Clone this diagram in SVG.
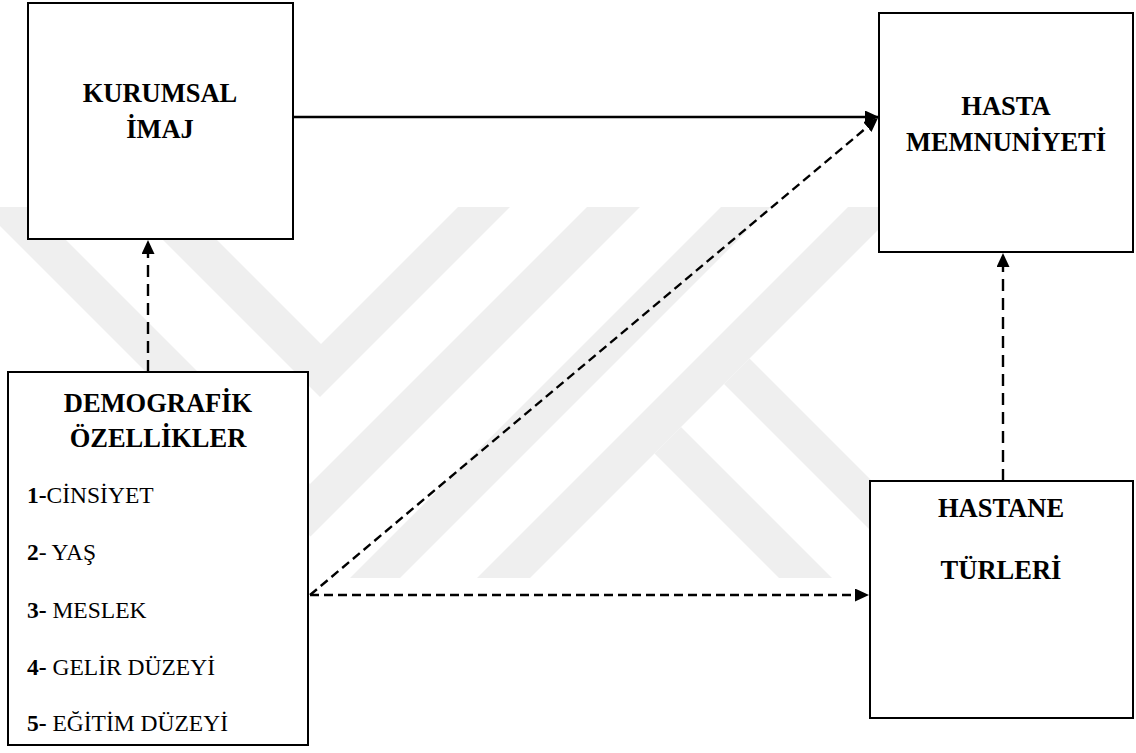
<svg xmlns="http://www.w3.org/2000/svg" width="1136" height="753" viewBox="0 0 1136 753">
<style>
.box{fill:#ffffff;stroke:#000000;stroke-width:2}
.hd{font-family:"Liberation Serif","Times New Roman",serif;font-weight:bold;font-size:26.5px;fill:#000;text-anchor:middle}
.it{font-family:"Liberation Serif","Times New Roman",serif;font-size:23.5px;fill:#000}
.it tspan.b{font-weight:bold}
.wm{fill:#efefef}
.c{fill:none;stroke:#000;stroke-width:2.4}
.d1{stroke-dasharray:12 7}
.d2{stroke-dasharray:9 5}
</style>
<defs>
<marker id="ah" markerUnits="userSpaceOnUse" markerWidth="15" markerHeight="13" refX="14" refY="6.5" orient="auto" viewBox="0 0 15 13">
<path d="M0,0 L14,6.5 L0,13 z" fill="#000"/>
</marker>
</defs>
<rect width="1136" height="753" fill="#ffffff"/>
<g id="watermark">
<polygon class="wm" points="-19,207 33,207 310,484 587,207 640,207 310.5,536.5"/>
<polygon class="wm" points="130,207 184,207 321,344 458,207 510,207 320,397"/>
<polygon class="wm" points="721,207 771,207 400,578 350,578"/>
<polygon class="wm" points="848,207 901,207 530,578 477,578"/>
<polygon class="wm" points="749.5,358.5 969,578 918,578 724,384"/>
<polygon class="wm" points="681,427 832,578 779,578 654.5,453.5"/>
</g>
<g id="connectors">
<line class="c" x1="293" y1="117" x2="879" y2="117" marker-end="url(#ah)"/>
<line class="c d2" x1="310" y1="595" x2="878" y2="118" marker-end="url(#ah)"/>
<line class="c d2" x1="310" y1="595" x2="869" y2="595" marker-end="url(#ah)"/>
<line class="c d1" x1="148" y1="372" x2="148" y2="240" marker-end="url(#ah)"/>
<line class="c d1" x1="1003" y1="481" x2="1003" y2="253" marker-end="url(#ah)"/>
</g>
<g id="kurumsal">
<rect class="box" x="28" y="3" width="265" height="236"/>
<text class="hd" x="160" y="102">KURUMSAL</text>
<text class="hd" x="160" y="138">İMAJ</text>
</g>
<g id="hasta">
<rect class="box" x="879" y="13" width="254" height="239"/>
<text class="hd" x="1006" y="115">HASTA</text>
<text class="hd" x="1006" y="151">MEMNUNİYETİ</text>
</g>
<g id="demografik">
<rect class="box" x="8" y="372" width="300" height="373"/>
<text class="hd" x="158" y="412">DEMOGRAFİK</text>
<text class="hd" x="158" y="447">ÖZELLİKLER</text>
<text class="it" x="27" y="503"><tspan class="b">1-</tspan>CİNSİYET</text>
<text class="it" x="27" y="560"><tspan class="b">2</tspan>- YAŞ</text>
<text class="it" x="27" y="618"><tspan class="b">3-</tspan> MESLEK</text>
<text class="it" x="27" y="675"><tspan class="b">4-</tspan> GELİR DÜZEYİ</text>
<text class="it" x="27" y="731"><tspan class="b">5-</tspan> EĞİTİM DÜZEYİ</text>
</g>
<g id="hastane">
<rect class="box" x="870" y="481" width="263" height="237"/>
<text class="hd" x="1001" y="517">HASTANE</text>
<text class="hd" x="1001" y="579">TÜRLERİ</text>
</g>
</svg>
